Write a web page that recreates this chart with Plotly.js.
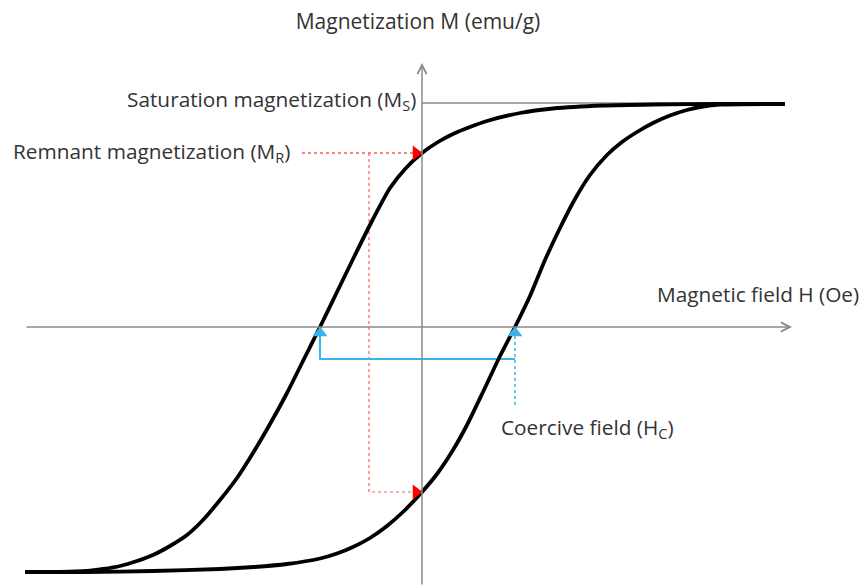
<!DOCTYPE html>
<html>
<head>
<meta charset="utf-8">
<script src="https://cdn.plot.ly/plotly-3.0.1.min.js"></script>
<style>html,body{margin:0;padding:0;background:#fff;}#chart{width:863px;height:586px;}</style>
</head>
<body>
<div id="chart"></div>
<script>
// Descending branch (from +saturation to -saturation)
const descH = [363, 298, 231, 181, 131, 98, 65, 48, 31, 16, 0, -16, -32, -50, -67, -85, -102, -119, -135, -152, -169, -185, -202, -219, -235, -252, -269, -285, -302, -319, -335, -362, -397];
const descM = [223, 223, 222.5, 221.5, 218.5, 214, 206, 200, 193, 185, 174, 159, 139, 106, 72, 35, 0, -34, -66, -97, -126, -151, -173, -193, -208, -219, -228, -234, -239, -242, -244, -245, -245];
// Ascending branch (from -saturation to +saturation)
const ascH = [-397, -335, -269, -202, -168, -135, -102, -85, -69, -52, -35, -18, 0, 15, 31, 45, 61, 78, 93, 108, 123, 138, 153, 168, 185, 200, 215, 231, 248, 265, 281, 298, 363];
const ascM = [-245, -245, -244, -242, -240, -237, -231.5, -226.5, -220, -211, -199, -184, -165, -147, -123, -98, -65, -29, 0, 31, 67, 99, 128, 152, 172, 185, 195, 204, 211.5, 217, 220.5, 222.3, 223];

// Characteristic values
const Ms = 224;           // saturation magnetization
const MrPos = 174;        // remnant magnetization (+)
const MrNeg = -165;       // remnant magnetization (-)
const HcNeg = -102;       // coercive field (-)
const HcPos = 93;         // coercive field (+)
const satLineEnd = 363;
const redLabelStart = -120, redGuideH = -53;
const blueGuideM = -32, blueDotEnd = -78;
const axisH = [-397, 370];
const axisM = [-259, 264];

const labels = {
  title: 'Magnetization M (emu/g)',
  xlabel: 'Magnetic field H (Oe)',
  sat: 'Saturation magnetization (M<sub>S</sub>)',
  rem: 'Remnant magnetization (M<sub>R</sub>)',
  coe: 'Coercive field (H<sub>C</sub>)'
};

const FONT = "'Open Sans', sans-serif";
const FS = 20.8;
const TXT = '#333333';
const GRAY = '#8a8a8a';
const RED = '#ff5a5a';
const BLUE = '#3bb4ea';

const traces = [
  // saturation reference line
  {x: [0, satLineEnd], y: [Ms, Ms], mode: 'lines', line: {color: GRAY, width: 1.5}, hoverinfo: 'skip'},
  // red remnant guides
  {x: [redLabelStart, -8], y: [MrPos, MrPos], mode: 'lines', line: {color: RED, width: 1.5, dash: 'dot'}, hoverinfo: 'skip'},
  {x: [redGuideH, redGuideH, -8], y: [MrPos, MrNeg, MrNeg], mode: 'lines', line: {color: RED, width: 1.2, dash: 'dot'}, hoverinfo: 'skip'},
  // blue coercive guides
  {x: [HcNeg, HcNeg, HcPos], y: [-9, blueGuideM, blueGuideM], mode: 'lines', line: {color: BLUE, width: 2}, hoverinfo: 'skip'},
  {x: [HcPos, HcPos], y: [blueDotEnd, -9], mode: 'lines', line: {color: BLUE, width: 1.5, dash: 'dot'}, hoverinfo: 'skip'},
  // hysteresis branches
  {x: descH, y: descM, mode: 'lines', line: {color: '#000', width: 3.8, shape: 'spline', smoothing: 0.7}, hoverinfo: 'skip'},
  {x: ascH, y: ascM, mode: 'lines', line: {color: '#000', width: 3.8, shape: 'spline', smoothing: 0.7}, hoverinfo: 'skip'},
  // arrowheads
  {x: [-6, -6], y: [MrPos, MrNeg], mode: 'markers', marker: {symbol: 'triangle-right', size: 13, color: '#ff0000'}, hoverinfo: 'skip'},
  {x: [HcNeg, HcPos], y: [-6, -6], mode: 'markers', marker: {symbol: 'triangle-up', size: 13, color: BLUE}, hoverinfo: 'skip'}
];

const annotations = [
  // axes with open arrowheads
  {x: axisH[1], y: 0, ax: axisH[0], ay: 0, xref: 'x', yref: 'y', axref: 'x', ayref: 'y', text: '', showarrow: true, arrowhead: 5, arrowsize: 1.2, arrowwidth: 1.5, arrowcolor: GRAY},
  {x: 0, y: axisM[1], ax: 0, ay: axisM[0], xref: 'x', yref: 'y', axref: 'x', ayref: 'y', text: '', showarrow: true, arrowhead: 5, arrowsize: 1.2, arrowwidth: 1.5, arrowcolor: GRAY},
  {x: -4, y: 227, xref: 'x', yref: 'y', text: labels.sat, showarrow: false, xanchor: 'right', yanchor: 'middle', font: {family: FONT, size: FS, color: TXT}},
  {x: -411, y: 175, xref: 'x', yref: 'y', text: labels.rem, showarrow: false, xanchor: 'left', yanchor: 'middle', font: {family: FONT, size: FS, color: TXT}},
  {x: 439, y: 33, xref: 'x', yref: 'y', text: labels.xlabel, showarrow: false, xanchor: 'right', yanchor: 'middle', font: {family: FONT, size: FS, color: TXT}},
  {x: 77, y: -101, xref: 'x', yref: 'y', text: labels.coe, showarrow: false, xanchor: 'left', yanchor: 'middle', font: {family: FONT, size: FS, color: TXT}}
];

const layout = {
  width: 863, height: 586,
  margin: {l: 0, r: 0, t: 0, b: 0},
  paper_bgcolor: '#fff', plot_bgcolor: '#fff',
  showlegend: false,
  hovermode: false,
  title: {text: labels.title, x: 418/863, xanchor: 'center', y: 1 - 22/586, yanchor: 'middle', font: {family: FONT, size: 21, color: TXT}},
  xaxis: {range: [-422, 441], visible: false, fixedrange: true},
  yaxis: {range: [-259, 327], visible: false, fixedrange: true},
  annotations: annotations
};

Plotly.newPlot('chart', traces, layout, {displayModeBar: false, staticPlot: true});
</script>
</body>
</html>
